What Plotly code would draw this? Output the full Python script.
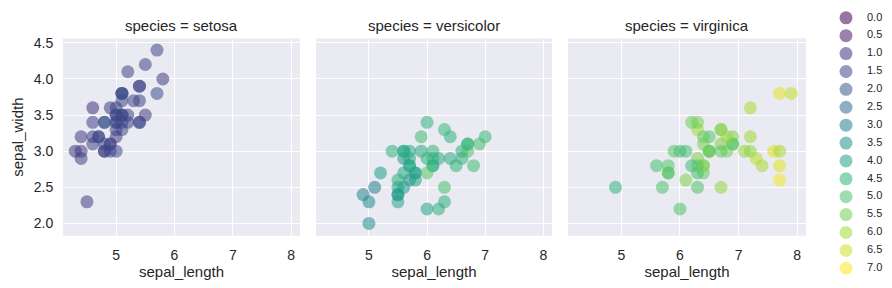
import plotly.graph_objects as go
from plotly.colors import sample_colorscale

species = ["setosa", "versicolor", "virginica"]

setosa_sepal_length = [5.1,4.9,4.7,4.6,5.0,5.4,4.6,5.0,4.4,4.9,5.4,4.8,4.8,4.3,5.8,5.7,5.4,5.1,5.7,5.1,
                       5.4,5.1,4.6,5.1,4.8,5.0,5.0,5.2,5.2,4.7,4.8,5.4,5.2,5.5,4.9,5.0,5.5,4.9,4.4,5.1,
                       5.0,4.5,4.4,5.0,5.1,4.8,5.1,4.6,5.3,5.0]
setosa_sepal_width = [3.5,3.0,3.2,3.1,3.6,3.9,3.4,3.4,2.9,3.1,3.7,3.4,3.0,3.0,4.0,4.4,3.9,3.5,3.8,3.8,
                      3.4,3.7,3.6,3.3,3.4,3.0,3.4,3.5,3.4,3.2,3.1,3.4,4.1,4.2,3.1,3.2,3.5,3.6,3.0,3.4,
                      3.5,2.3,3.2,3.5,3.8,3.0,3.8,3.2,3.7,3.3]
setosa_petal_length = [1.4,1.4,1.3,1.5,1.4,1.7,1.4,1.5,1.4,1.5,1.5,1.6,1.4,1.1,1.2,1.5,1.3,1.4,1.7,1.5,
                       1.7,1.5,1.0,1.7,1.9,1.6,1.6,1.5,1.4,1.6,1.6,1.5,1.5,1.4,1.5,1.2,1.3,1.4,1.3,1.5,
                       1.3,1.3,1.3,1.6,1.9,1.4,1.6,1.4,1.5,1.4]

versicolor_sepal_length = [7.0,6.4,6.9,5.5,6.5,5.7,6.3,4.9,6.6,5.2,5.0,5.9,6.0,6.1,5.6,6.7,5.6,5.8,6.2,5.6,
                           5.9,6.1,6.3,6.1,6.4,6.6,6.8,6.7,6.0,5.7,5.5,5.5,5.8,6.0,5.4,6.0,6.7,6.3,5.6,5.5,
                           5.5,6.1,5.8,5.0,5.6,5.7,5.7,6.2,5.1,5.7]
versicolor_sepal_width = [3.2,3.2,3.1,2.3,2.8,2.8,3.3,2.4,2.9,2.7,2.0,3.0,2.2,2.9,2.9,3.1,3.0,2.7,2.2,2.5,
                          3.2,2.8,2.5,2.8,2.9,3.0,2.8,3.0,2.9,2.6,2.4,2.4,2.7,2.7,3.0,3.4,3.1,2.3,3.0,2.5,
                          2.6,3.0,2.6,2.3,2.7,3.0,2.9,2.9,2.5,2.8]
versicolor_petal_length = [4.7,4.5,4.9,4.0,4.6,4.5,4.7,3.3,4.6,3.9,3.5,4.2,4.0,4.7,3.6,4.4,4.5,4.1,4.5,3.9,
                           4.8,4.0,4.9,4.7,4.3,4.4,4.8,5.0,4.5,3.5,3.8,3.7,3.9,5.1,4.5,4.5,4.7,4.4,4.1,4.0,
                           4.4,4.6,4.0,3.3,4.2,4.2,4.2,4.3,3.0,4.1]

virginica_sepal_length = [6.3,5.8,7.1,6.3,6.5,7.6,4.9,7.3,6.7,7.2,6.5,6.4,6.8,5.7,5.8,6.4,6.5,7.7,7.7,6.0,
                          6.9,5.6,7.7,6.3,6.7,7.2,6.2,6.1,6.4,7.2,7.4,7.9,6.4,6.3,6.1,7.7,6.3,6.4,6.0,6.9,
                          6.7,6.9,5.8,6.8,6.7,6.7,6.3,6.5,6.2,5.9]
virginica_sepal_width = [3.3,2.7,3.0,2.9,3.0,3.0,2.5,2.9,2.5,3.6,3.2,2.7,3.0,2.5,2.8,3.2,3.0,3.8,2.6,2.2,
                         3.2,2.8,2.8,2.7,3.3,3.2,2.8,3.0,2.8,3.0,2.8,3.8,2.8,2.8,2.6,3.0,3.4,3.1,3.0,3.1,
                         3.1,3.1,2.7,3.2,3.3,3.0,2.5,3.0,3.4,3.0]
virginica_petal_length = [6.0,5.1,5.9,5.6,5.8,6.6,4.5,6.3,5.8,6.1,5.1,5.3,5.5,5.0,5.1,5.3,5.5,6.7,6.9,5.0,
                          5.7,4.9,6.7,4.9,5.7,6.0,4.8,4.9,5.6,5.8,6.1,6.4,5.6,5.1,5.6,6.1,5.6,5.5,4.8,5.4,
                          5.6,5.1,5.1,5.9,5.7,5.2,5.0,5.2,5.4,5.1]

legend_values = [0.0,0.5,1.0,1.5,2.0,2.5,3.0,3.5,4.0,4.5,5.0,5.5,6.0,6.5,7.0]
x_ticks = [5, 6, 7, 8]
y_ticks = [2.0, 2.5, 3.0, 3.5, 4.0, 4.5]

HUE_MIN, HUE_MAX = 0.0, 7.0
ALPHA = 0.55
TEXT = "#262626"
FONT = "Liberation Sans, Arial, sans-serif"
MSIZE = 13
PANEL_BG = "#eaeaf2"

def cols(vals):
    return sample_colorscale("Viridis", [(v - HUE_MIN) / (HUE_MAX - HUE_MIN) for v in vals])

data = {
    "setosa": (setosa_sepal_length, setosa_sepal_width, setosa_petal_length),
    "versicolor": (versicolor_sepal_length, versicolor_sepal_width, versicolor_petal_length),
    "virginica": (virginica_sepal_length, virginica_sepal_width, virginica_petal_length),
}

W, H = 892, 288
x_domains = [(63, 300), (316, 552), (568, 806)]
y_top, y_bot = 35, 235

fig = go.Figure()
layout = dict(
    width=W, height=H, margin=dict(l=0, r=0, t=0, b=0),
    paper_bgcolor="white", plot_bgcolor="rgba(0,0,0,0)",
    font=dict(family=FONT, color=TEXT, size=14),
    showlegend=False, hovermode=False,
)
annotations = []
shapes = []
for i, sp in enumerate(species):
    xs, ys, hs = data[sp]
    xa = "x" if i == 0 else f"x{i+1}"
    ya = "y" if i == 0 else f"y{i+1}"
    fig.add_trace(go.Scatter(
        x=xs, y=ys, mode="markers", xaxis=xa, yaxis=ya, showlegend=False,
        marker=dict(size=MSIZE, color=cols(hs), opacity=ALPHA, line=dict(width=0)),
    ))
    d0, d1 = x_domains[i]
    key = "" if i == 0 else str(i + 1)
    layout["xaxis" + key] = dict(
        domain=[d0 / W, d1 / W], range=[4.09, 8.15], tickvals=x_ticks,
        showgrid=True, gridcolor="white", gridwidth=1, zeroline=False, showline=False,
        ticks="outside", ticklen=6, tickcolor="rgba(0,0,0,0)",
        tickfont=dict(size=14, color=TEXT), anchor=ya,
        title=dict(text="sepal_length", font=dict(size=15, color=TEXT), standoff=4),
    )
    layout["yaxis" + key] = dict(
        domain=[1 - y_bot / H, 1 - y_top / H], range=[1.83, 4.56], tickvals=y_ticks,
        tickformat=".1f", showticklabels=(i == 0),
        showgrid=True, gridcolor="white", gridwidth=1, zeroline=False, showline=False,
        ticks="outside", ticklen=6, tickcolor="rgba(0,0,0,0)",
        tickfont=dict(size=14, color=TEXT), anchor=xa,
        title=dict(text="sepal_width" if i == 0 else "", font=dict(size=15, color=TEXT), standoff=6),
    )
    shapes.append(dict(
        type="rect", xref=f"{xa} domain", yref=f"{ya} domain", x0=0, x1=1, y0=0, y1=1,
        fillcolor=PANEL_BG, line=dict(width=0), layer="below",
    ))
    annotations.append(dict(
        text=f"species = {sp}", x=(d0 + d1) / 2 / W, y=1 - 22 / H, xref="paper", yref="paper",
        showarrow=False, font=dict(size=15, color=TEXT), xanchor="center", yanchor="middle",
    ))

# Legend drawn on its own hidden axes (value -> vertical position)
LEG_L, LEG_R = 826, 892
LEG_TOP, LEG_BOT = 14, 268
MARK_X, TEXT_X = 20, 41
fig.add_trace(go.Scatter(
    x=[MARK_X] * len(legend_values), y=legend_values, mode="markers",
    xaxis="x4", yaxis="y4", showlegend=False, cliponaxis=False,
    marker=dict(size=MSIZE, color=cols(legend_values), opacity=ALPHA, line=dict(width=0)),
))
fig.add_trace(go.Scatter(
    x=[TEXT_X] * len(legend_values), y=legend_values, mode="text",
    text=[f"{v:.1f}" for v in legend_values], textposition="middle right",
    textfont=dict(size=11, color=TEXT, family=FONT),
    xaxis="x4", yaxis="y4", showlegend=False, cliponaxis=False,
))
layout["xaxis4"] = dict(domain=[LEG_L / W, LEG_R / W], range=[0, LEG_R - LEG_L],
                        visible=False, anchor="y4", fixedrange=True)
layout["yaxis4"] = dict(domain=[1 - LEG_BOT / H, 1 - LEG_TOP / H],
                        range=[max(legend_values), min(legend_values)],
                        visible=False, anchor="x4", fixedrange=True)

layout["annotations"] = annotations
layout["shapes"] = shapes
fig.update_layout(**layout)
fig.write_html("out.html")
